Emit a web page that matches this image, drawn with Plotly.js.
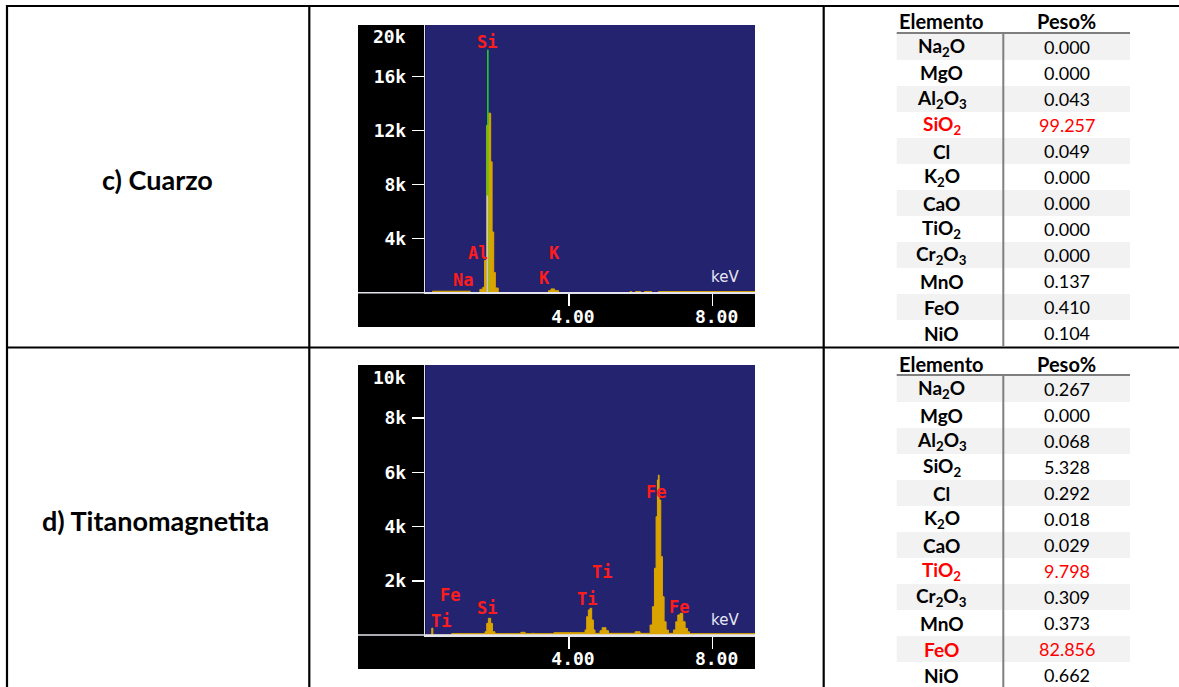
<!DOCTYPE html>
<html><head><meta charset="utf-8">
<script src="https://cdn.plot.ly/plotly-3.0.1.min.js"></script>
<style>html,body{margin:0;padding:0;background:#fff;overflow:hidden}#chart{width:1179px;height:687px}</style>
</head><body><div id="chart"></div>
<script>
// ---------------- data ----------------
const sampleLabels = ['c) Cuarzo', 'd) Titanomagnetita'];
const tableHeader = ['Elemento', 'Peso%'];
const oxides = ['Na<sub>2</sub>O', 'MgO', 'Al<sub>2</sub>O<sub>3</sub>', 'SiO<sub>2</sub>', 'Cl', 'K<sub>2</sub>O', 'CaO', 'TiO<sub>2</sub>', 'Cr<sub>2</sub>O<sub>3</sub>', 'MnO', 'FeO', 'NiO'];
const cuarzoWt = [0.000, 0.000, 0.043, 99.257, 0.049, 0.000, 0.000, 0.000, 0.000, 0.137, 0.410, 0.104];
const titanoWt = [0.267, 0.000, 0.068, 5.328, 0.292, 0.018, 0.029, 9.798, 0.309, 0.373, 82.856, 0.662];
const cuarzoHighlight = [3];
const titanoHighlight = [7, 10];

// EDS spectrum, quartz (bin start energy keV, counts)
const cuarzoKev    = [0, 0.20, 1.25, 1.52, 1.60, 1.65, 1.71, 1.77, 1.82, 1.86, 1.905, 1.95, 2.03, 3.43, 3.50, 3.60, 3.71, 5.70, 5.75, 5.85, 6.00, 6.10, 6.30, 6.49, 9.18];
const cuarzoCounts = [0, 110,  0,    250,  400,  2400, 12400, 13300, 9700, 4500, 1500, 350,  0,    150,  280,  150,  0,    80,   0,    80,   0,    80,   0,    80,   80];
// EDS spectrum, titanomagnetite
const titanoKev    = [0, 0.18, 0.21, 0.73, 1.663, 1.71, 1.756, 1.82, 1.87, 1.94, 2.66, 2.78, 2.96, 3.05, 3.58, 4.448, 4.494, 4.54, 4.587, 4.633, 4.68, 4.726, 4.865, 4.925, 5.03, 5.10, 5.84, 5.98, 6.259, 6.324, 6.38, 6.426, 6.463, 6.49, 6.51, 6.556, 6.603, 6.649, 6.705, 6.77, 6.909, 6.974, 7.03, 7.095, 7.169, 7.234, 7.299, 7.355, 9.18];
const titanoCounts = [0, 250,  0,    50,   122,   430,  616,   430,  122,  50,   100,  50,   60,   50,   85,   185,   676,   923,  985,   554,   185,  60,    160,   270,   160,  60,   120,  60,   369,   1045,  2460, 4365,  5720,  5900, 4980, 2890,  1413,  490,   180,   60,   185,   490,   738,  800,   490,   246,   120,   50,    50];

// element line labels (keV, counts)
const cuarzoPeakText   = ['Si', 'Al', 'Na', 'K', 'K'];
const cuarzoPeakKev    = [1.71, 1.454, 1.036, 3.585, 3.306];
const cuarzoPeakCounts = [18607, 2978, 941, 2941, 1089];
const titanoPeakText   = ['Ti', 'Fe', 'Si', 'Ti', 'Ti', 'Fe', 'Fe'];
const titanoPeakKev    = [0.446, 0.68, 1.71, 4.51, 4.914, 6.412, 7.072];
const titanoPeakCounts = [517, 1465, 985, 1339, 2336, 5277, 1044];

// Si marker lines in quartz spectrum
const siMarkerKev = [1.742, 1.742];
const siMarkerCounts = [0, 18000];
const overlayKev = [1.73, 1.73];
const overlayCounts = [0, 7200];

// axes
const kevTickVals = [4, 8];
const kevTickText = ['4.00', '8.00'];
const cuarzoTickVals = [4000, 8000, 12000, 16000];
const cuarzoTickText = ['4k', '8k', '12k', '16k'];
const cuarzoFullScale = '20k';
const titanoTickVals = [2000, 4000, 6000, 8000];
const titanoTickText = ['2k', '4k', '6k', '8k'];
const titanoFullScale = '10k';
const kevMax = 9.18;
const cuarzoMax = 19830;
const titanoMax = 9960;

// ---------------- layout helpers ----------------
const W = 1179, H = 687;
const px = x => x / W, py = y => 1 - y / H;
const BLUE = '#232370', GOLD = '#d9a400', RED = '#ff1c1c';
const monoBold = {family: 'DejaVu Sans Mono', size: 18, color: '#ffffff', weight: 'bold'};

const traces = [
  {x: cuarzoKev, y: cuarzoCounts, xaxis: 'x', yaxis: 'y', type: 'scatter', mode: 'lines',
   line: {shape: 'hv', color: GOLD, width: 1}, fill: 'tozeroy', fillcolor: GOLD, hoverinfo: 'skip'},
  {x: siMarkerKev, y: siMarkerCounts, xaxis: 'x', yaxis: 'y', mode: 'lines', line: {color: '#22dd22', width: 1.5}, hoverinfo: 'skip'},
  {x: overlayKev, y: overlayCounts, xaxis: 'x', yaxis: 'y', mode: 'lines', line: {color: '#c8c8d4', width: 1.5}, hoverinfo: 'skip'},
  {x: titanoKev, y: titanoCounts, xaxis: 'x2', yaxis: 'y2', type: 'scatter', mode: 'lines',
   line: {shape: 'hv', color: GOLD, width: 1}, fill: 'tozeroy', fillcolor: GOLD, hoverinfo: 'skip'}
];

function xAxis(anchor) {
  return {domain: [px(425.3), px(755)], range: [0, kevMax], anchor: anchor,
    tickmode: 'array', tickvals: kevTickVals, ticktext: kevTickText,
    ticks: 'outside', ticklen: 12, tickwidth: 1.5, tickcolor: '#ffffff',
    showline: true, linecolor: '#e4e4ee', linewidth: 1.5, showgrid: false, zeroline: false,
    tickfont: monoBold, ticklabelshift: 4, ticklabelstandoff: -5, fixedrange: true};
}
function yAxis(anchor, top, bottom, max, vals, text) {
  return {domain: [py(bottom), py(top)], range: [0, max], anchor: anchor,
    tickmode: 'array', tickvals: vals, ticktext: text,
    ticks: 'outside', ticklen: 12, tickwidth: 1.5, tickcolor: '#ffffff',
    showline: true, linecolor: '#e4e4ee', linewidth: 1.5, showgrid: false, zeroline: false,
    tickfont: monoBold, ticklabelstandoff: 2, fixedrange: true};
}

const shapes = [];
const annotations = [];

// black image backgrounds of spectra, then the blue plotting area
[[25, 327, 292.7], [365, 669, 635]].forEach(([t, b, base]) => {
  shapes.push({type: 'rect', xref: 'paper', yref: 'paper', x0: px(358), x1: px(755), y0: py(b), y1: py(t),
    fillcolor: '#000000', line: {width: 0}, layer: 'below'});
  shapes.push({type: 'rect', xref: 'paper', yref: 'paper', x0: px(425.3), x1: px(755), y0: py(base), y1: py(t),
    fillcolor: BLUE, line: {width: 0}, layer: 'below'});
});
// full-width baseline lines of the spectra
[292.7, 635].forEach(y => {
  shapes.push({type: 'line', xref: 'paper', yref: 'paper', x0: px(358), x1: px(755), y0: py(y), y1: py(y),
    line: {color: '#e4e4ee', width: 1.5}});
});

// full-scale labels
annotations.push({xref: 'paper', yref: 'paper', x: px(408), y: py(36), xanchor: 'right', yanchor: 'middle',
  text: cuarzoFullScale, showarrow: false, font: monoBold});
annotations.push({xref: 'paper', yref: 'paper', x: px(408), y: py(377.5), xanchor: 'right', yanchor: 'middle',
  text: titanoFullScale, showarrow: false, font: monoBold});
// keV labels
[276.7, 620].forEach(y => annotations.push({xref: 'paper', yref: 'paper', x: px(725), y: py(y), xanchor: 'center', yanchor: 'middle',
  text: 'keV', showarrow: false, font: {family: 'DejaVu Sans', size: 15, color: '#e8e8f2'}}));

// element peak labels
const peakFont = {family: 'DejaVu Sans Mono', size: 17, color: RED, weight: 'bold'};
cuarzoPeakText.forEach((t, i) => annotations.push({xref: 'x', yref: 'y', x: cuarzoPeakKev[i], y: cuarzoPeakCounts[i],
  text: t, showarrow: false, font: peakFont, xanchor: 'center', yanchor: 'middle'}));
titanoPeakText.forEach((t, i) => annotations.push({xref: 'x2', yref: 'y2', x: titanoPeakKev[i], y: titanoPeakCounts[i],
  text: t, showarrow: false, font: peakFont, xanchor: 'center', yanchor: 'middle'}));

// outer table lines
const black = {color: '#000000', width: 2.2};
shapes.push({type: 'line', xref: 'paper', yref: 'paper', x0: px(6), x1: 1, y0: py(6), y1: py(6), line: black});
shapes.push({type: 'line', xref: 'paper', yref: 'paper', x0: px(6), x1: 1, y0: py(347.5), y1: py(347.5), line: black});
[7, 309.3, 823.7].forEach(x => shapes.push({type: 'line', xref: 'paper', yref: 'paper', x0: px(x), x1: px(x), y0: py(5), y1: 0, line: black}));

// sample labels
const labelFont = {family: 'Lato', size: 27, color: '#000000', weight: 'bold'};
[[157.5, 180], [155, 520]].forEach(([x, y], i) => annotations.push({xref: 'paper', yref: 'paper', x: px(x), y: py(y),
  text: sampleLabels[i], showarrow: false, font: labelFont, xanchor: 'center', yanchor: 'middle'}));

// composition tables
const colX = [941.5, 1066.5];
const tblL = 896.7, tblR = 1130, divX = 1003.3, rowH = 26;
function buildTable(top, values, highlight, bottomLimit) {
  const headY = top + 15.5;
  const lineY = top + 27;
  tableHeader.forEach((h, c) => annotations.push({xref: 'paper', yref: 'paper', x: px(colX[c]), y: py(headY),
    text: h, showarrow: false, font: {family: 'Lato', size: 20, color: '#000', weight: 'bold'}, xanchor: 'center', yanchor: 'middle'}));
  oxides.forEach((ox, i) => {
    const r0 = lineY + 1 + i * rowH;
    if (i % 2 === 0) {
      shapes.push({type: 'rect', xref: 'paper', yref: 'paper', x0: px(tblL), x1: px(tblR),
        y0: py(Math.min(r0 + rowH, bottomLimit)), y1: py(r0), fillcolor: '#f2f2f2', line: {width: 0}, layer: 'below'});
    }
    const col = highlight.includes(i) ? '#ff0000' : '#000000';
    const cy = r0 + 13;
    annotations.push({xref: 'paper', yref: 'paper', x: px(colX[0]), y: py(cy), text: ox, showarrow: false,
      font: {family: 'Lato', size: 19, color: col, weight: 'bold'}, xanchor: 'center', yanchor: 'middle'});
    annotations.push({xref: 'paper', yref: 'paper', x: px(colX[1]), y: py(cy), text: values[i].toFixed(3), showarrow: false,
      font: {family: 'Lato', size: 18, color: col}, xanchor: 'center', yanchor: 'middle'});
  });
  shapes.push({type: 'line', xref: 'paper', yref: 'paper', x0: px(tblL), x1: px(tblR), y0: py(lineY), y1: py(lineY),
    line: {color: '#7f7f7f', width: 2}});
  shapes.push({type: 'line', xref: 'paper', yref: 'paper', x0: px(divX), x1: px(divX), y0: py(lineY), y1: py(Math.min(lineY + 12 * rowH + 1, bottomLimit)),
    line: {color: '#7f7f7f', width: 2}});
}
buildTable(6, cuarzoWt, cuarzoHighlight, 346);
buildTable(348, titanoWt, titanoHighlight, 687);

const layout = {
  width: W, height: H, margin: {l: 0, r: 0, t: 0, b: 0},
  paper_bgcolor: '#ffffff', plot_bgcolor: BLUE, showlegend: false,
  xaxis: xAxis('y'),
  yaxis: yAxis('x', 25, 292.7, cuarzoMax, cuarzoTickVals, cuarzoTickText),
  xaxis2: xAxis('y2'),
  yaxis2: yAxis('x2', 365, 635, titanoMax, titanoTickVals, titanoTickText),
  shapes: shapes, annotations: annotations
};
Plotly.newPlot('chart', traces, layout, {displayModeBar: false, staticPlot: true});
</script></body></html>
